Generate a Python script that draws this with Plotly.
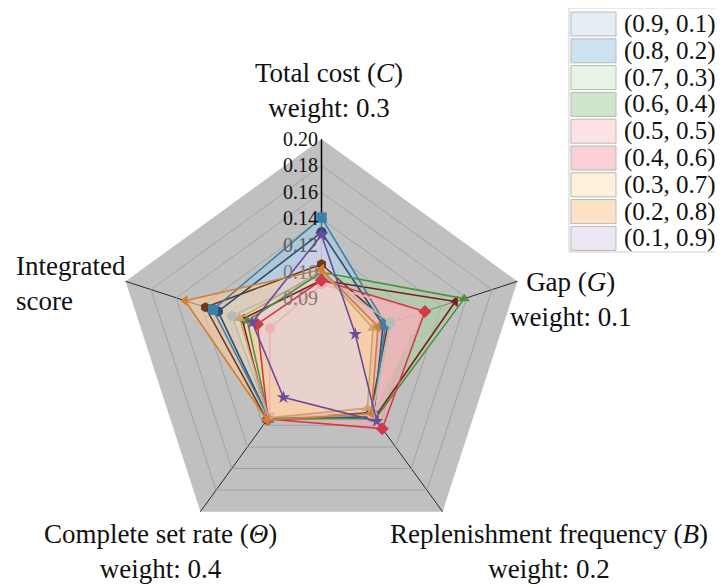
import numpy as np
import plotly.graph_objects as go

# ---------------- data ----------------
categories = ["C", "G", "B", "Θ", "I"]
series_names = ["(0.9, 0.1)", "(0.8, 0.2)", "(0.7, 0.3)", "(0.6, 0.4)", "(0.5, 0.5)",
                "(0.4, 0.6)", "(0.3, 0.7)", "(0.2, 0.8)", "(0.1, 0.9)"]
tick_values = [0.09, 0.10, 0.12, 0.14, 0.16, 0.18, 0.20]
tick_text = ["0.09", "0.10", "0.12", "0.14", "0.16", "0.18", "0.20"]

# values on axes C, G, B, Θ, Integrated score
s_09_01 = [0.130, 0.097, 0.112, 0.113, 0.127]
s_08_02 = [0.141, 0.098, 0.111, 0.113, 0.131]
s_07_03 = [0.099, 0.100, 0.110, 0.113, 0.116]
s_06_04 = [0.100, 0.158, 0.114, 0.113, 0.104]
s_05_05 = [0.0955, 0.125, 0.110, 0.112, 0.093]
s_04_06 = [0.097, 0.127, 0.123, 0.114, 0.098]
s_03_07 = [0.101, 0.093, 0.104, 0.113, 0.110]
s_02_08 = [0.102, 0.095, 0.109, 0.115, 0.153]
s_01_09 = [0.128, 0.086, 0.116, 0.097, 0.100]
extra_brown = [0.106, 0.099, 0.108, 0.115, 0.137]
extra_darkred = [0.097, 0.151, 0.113, 0.114, 0.108]

series_values = [s_09_01, s_08_02, s_07_03, s_06_04, s_05_05,
                 s_04_06, s_03_07, s_02_08, s_01_09]

# ---------------- styling ----------------
swatch = ["#e6eef5", "#cde2f1", "#e9f3e4", "#cfe6cb", "#fde3e6",
          "#f8d0d5", "#fdf1dc", "#fde2c8", "#ece7f2"]
line_colors = ["#2f4d70", "#3d7fab", "#b4bdb6", "#4f8f3c", "#f0b0b6",
               "#d13b47", "#c9a273", "#d08035", "#6a4c9c"]
symbols = ["circle", "square", "circle", "triangle-up", "circle",
           "diamond", "triangle-up", "triangle-left", "star"]
tick_colors = ["#857a76", "#857a76", "#5a5a60", "#111111", "#111111", "#111111", "#111111"]
ALPHA = 0.55


def rgba_for_swatch(hexcol, a=ALPHA):
    h = hexcol.lstrip("#")
    rgb = [int(h[i:i + 2], 16) for i in (0, 2, 4)]
    c = [max(0, min(255, round((v - 255 * (1 - a)) / a))) for v in rgb]
    return f"rgba({c[0]},{c[1]},{c[2]},{a})"


tick_pos = np.arange(1, len(tick_values) + 1, dtype=float)
R_MIN = -0.73


def to_r(vals):
    v = np.asarray(vals, dtype=float)
    r = np.interp(v, tick_values, tick_pos)
    low = v < tick_values[0]
    r[low] = tick_pos[0] + (v[low] - tick_values[0]) / (tick_values[1] - tick_values[0])
    return r


def closed(lst):
    return list(lst) + [lst[0]]


theta = closed(categories)
fig = go.Figure()

# radial axis line (below the fills)
fig.add_trace(go.Scatterpolar(
    r=[R_MIN, tick_pos[-1]], theta=[categories[0], categories[0]], mode="lines",
    line=dict(color="black", width=1.5), hoverinfo="skip", showlegend=False))

# fills
for name, vals, sw in zip(series_names, series_values, swatch):
    fig.add_trace(go.Scatterpolar(
        r=closed(list(to_r(vals))), theta=theta, name=name,
        mode="lines", fill="toself", fillcolor=rgba_for_swatch(sw),
        line=dict(width=0, color="rgba(0,0,0,0)"), hoverinfo="skip",
        showlegend=False))

# extra lines
fig.add_trace(go.Scatterpolar(
    r=closed(list(to_r(extra_darkred))), theta=theta, mode="lines+markers",
    line=dict(color="#7a1d22", width=1.6), marker=dict(symbol="triangle-left", size=10, color="#7a1d22"),
    showlegend=False))
fig.add_trace(go.Scatterpolar(
    r=closed(list(to_r(extra_brown))), theta=theta, mode="lines+markers",
    line=dict(color="#6b3a1e", width=1.6), marker=dict(symbol="hexagon", size=10, color="#6b3a1e"),
    showlegend=False))

# lines with markers
for name, vals, lc, sym in zip(series_names, series_values, line_colors, symbols):
    fig.add_trace(go.Scatterpolar(
        r=closed(list(to_r(vals))), theta=theta, mode="lines+markers",
        line=dict(color=lc, width=1.6), marker=dict(symbol=sym, size=10, color=lc),
        showlegend=False, name=name))

W, H = 723, 587
R = 206.0
dcx, dcy = 313.5, 337.0   # domain centre (px from top-left)

font_family = "Liberation Serif, Times New Roman, serif"
colored_ticks = [f"<span style='color:{c}'>{t}</span>" for t, c in zip(tick_text, tick_colors)]

fig.update_layout(
    width=W, height=H,
    margin=dict(l=0, r=0, t=0, b=0),
    paper_bgcolor="white",
    font=dict(family=font_family, color="#111111"),
    showlegend=False,
    polar=dict(
        domain=dict(x=[(dcx - R) / W, (dcx + R) / W], y=[(H - dcy - R) / H, (H - dcy + R) / H]),
        bgcolor="#c0c0c0",
        gridshape="linear",
        angularaxis=dict(rotation=90, direction="clockwise", showticklabels=False, ticks="",
                         gridcolor="#2a2a2a", gridwidth=1, showline=False, layer="below traces"),
        radialaxis=dict(range=[R_MIN, tick_pos[-1]], tickvals=list(tick_pos), ticktext=colored_ticks,
                        angle=90, tickangle=90, side="counterclockwise",
                        showline=False, gridcolor="#a2a2a2", gridwidth=1, ticks="",
                        layer="above traces",
                        tickfont=dict(family=font_family, size=20, color="#111111")),
    ),
)

# axis titles
FS = 27
DY = -6
label_blocks = [
    ("Total cost (<i>C</i>)<br>weight: 0.3", 321, 88, "center"),
    ("Gap (<i>G</i>)<br>weight: 0.1", 563, 298, "center"),
    ("Replenishment frequency (<i>B</i>)<br>weight: 0.2", 541, 549, "center"),
    ("Complete set rate (<i>Θ</i>)<br>weight: 0.4", 152, 549, "center"),
    ("Integrated<br>score", 6, 282, "left"),
]
for txt, px, py, al in label_blocks:
    fig.add_annotation(text=txt, x=px / W, y=1 - (py + DY) / H, xref="paper", yref="paper",
                       xanchor=al, yanchor="middle", align=al, showarrow=False,
                       font=dict(family=font_family, size=FS, color="#111111"))

# legend (swatch boxes + labels)
LX0, LX1, LY0, PITCH, BOXH = 563, 608, 4, 26.8, 24
fig.add_shape(type="rect", xref="paper", yref="paper",
              x0=561 / W, x1=1, y0=1 - 244 / H, y1=1,
              line=dict(color="#cfcfcf", width=1), fillcolor="white", layer="above")
for i, (name, sw) in enumerate(zip(series_names, swatch)):
    top = LY0 + PITCH * i
    fig.add_shape(type="rect", xref="paper", yref="paper",
                  x0=LX0 / W, x1=LX1 / W, y0=1 - (top + BOXH) / H, y1=1 - top / H,
                  line=dict(color="#b8b8b8", width=1), fillcolor=sw, layer="above")
    fig.add_annotation(text=name, x=614 / W, y=1 - (top + BOXH / 2) / H,
                       xref="paper", yref="paper", xanchor="left", yanchor="middle",
                       showarrow=False, font=dict(family=font_family, size=25, color="#111111"))

fig.write_html("out.html")
